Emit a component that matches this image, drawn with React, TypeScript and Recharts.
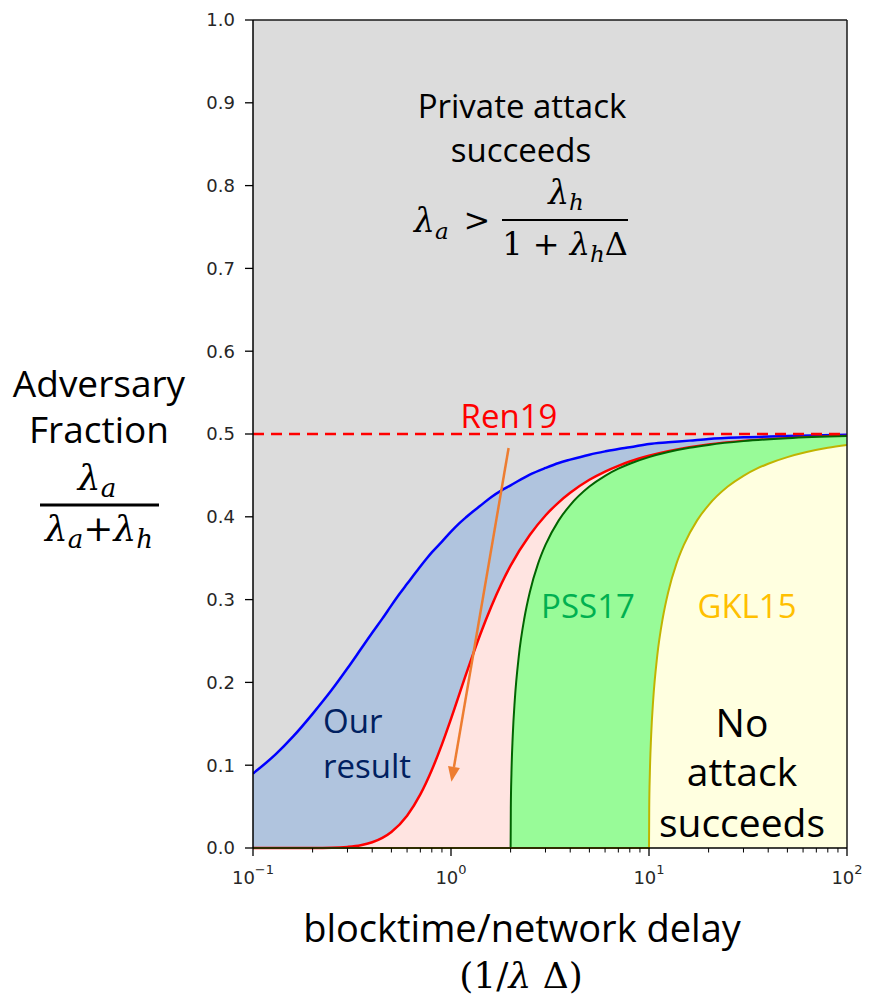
import React from 'react';
import { ComposedChart, Area, XAxis, YAxis, ReferenceLine, CartesianGrid } from 'recharts';

// x = blocktime / network delay (1/λΔ), y = adversary fraction
const blueX = [0.1, 0.13, 0.16, 0.2, 0.25, 0.3, 0.35, 0.4, 0.45, 0.5, 0.55, 0.6, 0.65, 0.7, 0.75, 0.8, 0.9, 1, 1.1, 1.2, 1.3, 1.4, 1.6, 1.8, 2, 2.5, 3, 3.5, 4, 5, 6, 7, 8, 10, 12.5, 16, 20, 30, 50, 100];
const blueY = [0.09, 0.113, 0.135, 0.162, 0.191, 0.217, 0.24, 0.26, 0.277, 0.293, 0.307, 0.319, 0.33, 0.34, 0.349, 0.357, 0.37, 0.382, 0.392, 0.4, 0.407, 0.413, 0.424, 0.432, 0.438, 0.451, 0.459, 0.465, 0.469, 0.475, 0.479, 0.482, 0.484, 0.488, 0.49, 0.492, 0.494, 0.496, 0.4975, 0.499];

const redX = [0.1, 0.2, 0.25, 0.3, 0.35, 0.4, 0.45, 0.5, 0.6, 0.7, 0.8, 0.9, 1, 1.2, 1.4, 1.6, 1.8, 2, 2.5, 3, 3.5, 4, 5, 6, 7, 8, 10, 12.5, 16, 20, 30, 50, 100];
const redY = [0, 0.00005, 0.0003, 0.0013, 0.0033, 0.0069, 0.0122, 0.0194, 0.039, 0.0647, 0.0942, 0.1252, 0.156, 0.212, 0.257, 0.292, 0.3195, 0.341, 0.378, 0.4016, 0.4175, 0.429, 0.4447, 0.4547, 0.4616, 0.4668, 0.4737, 0.4792, 0.484, 0.4873, 0.4915, 0.4949, 0.4975];

const greenX = [0.1, 2, 2.005, 2.02, 2.05, 2.1, 2.2, 2.35, 2.5, 2.75, 3, 3.5, 4, 5, 6, 7, 8, 10, 12.5, 16, 20, 30, 50, 100];
const greenY = [0, 0, 0.0476, 0.0905, 0.1351, 0.1791, 0.2317, 0.2784, 0.309, 0.3431, 0.366, 0.3957, 0.4142, 0.4365, 0.4495, 0.4581, 0.4641, 0.4721, 0.4782, 0.4833, 0.4868, 0.4914, 0.4949, 0.4975];

const yellowX = [0.1, 10, 10.025, 10.1, 10.25, 10.5, 11, 11.75, 12.5, 13.75, 15, 17.5, 20, 25, 30, 35, 40, 50, 62.5, 80, 100];
const yellowY = [0, 0, 0.0476, 0.0905, 0.1351, 0.1791, 0.2317, 0.2784, 0.309, 0.3431, 0.366, 0.3957, 0.4142, 0.4365, 0.4495, 0.4581, 0.4641, 0.4721, 0.4782, 0.4833, 0.4868];

const yTicks = [0, 0.1, 0.2, 0.3, 0.4, 0.5, 0.6, 0.7, 0.8, 0.9, 1.0];
const xMajor = [0.1, 1, 10, 100];
const xMinor = [0.2, 0.3, 0.4, 0.5, 0.6, 0.7, 0.8, 0.9, 2, 3, 4, 5, 6, 7, 8, 9, 20, 30, 40, 50, 60, 70, 80, 90];

const toPoints = (xs: number[], ys: number[]) => xs.map((x, i) => ({ x, y: ys[i] }));

const SANS = '"Open Sans", sans-serif';
const MATH = '"DejaVu Serif", serif';

function LogTick(props: any) {
  const { x, y, payload } = props;
  const v = payload.value;
  const major = xMajor.includes(v);
  const exp = Math.round(Math.log10(v));
  return (
    <g>
      <line x1={x} x2={x} y1={y} y2={y + (major ? 8 : 4.5)} stroke="#000" strokeWidth={major ? 1.3 : 1} />
      {major && (
        <text x={x} y={y + 36} textAnchor="middle" fontFamily="DejaVu Sans" fontSize={18} fill="#262626">
          10
          <tspan dy={-10} fontSize={13}>{exp < 0 ? '\u2212' + -exp : String(exp)}</tspan>
        </text>
      )}
    </g>
  );
}

function Arrow(props: any) {
  const { x1, y1, x2, y2 } = props;
  const ang = Math.atan2(y2 - y1, x2 - x1);
  const len = 15;
  const hw = 6;
  const bx = x2 - len * Math.cos(ang);
  const by = y2 - len * Math.sin(ang);
  const px = -Math.sin(ang) * hw;
  const py = Math.cos(ang) * hw;
  return (
    <g>
      <line x1={x1} y1={y1} x2={bx} y2={by} stroke="#ed7d31" strokeWidth={2.5} />
      <polygon points={`${x2},${y2} ${bx + px},${by + py} ${bx - px},${by - py}`} fill="#ed7d31" />
    </g>
  );
}

export default function App() {
  return (
    <div style={{ position: 'absolute', left: 0, top: 0, width: 869, height: 1002, background: '#fff' }}>
      <ComposedChart width={869} height={1002} margin={{ top: 20, right: 22, left: 193, bottom: 114 }}>
        <CartesianGrid horizontal={false} vertical={false} fill="#dcdcdc" />
        <XAxis
          dataKey="x"
          type="number"
          scale="log"
          domain={[0.1, 100]}
          allowDataOverflow
          ticks={[...xMajor, ...xMinor]}
          interval={0}
          tickSize={0}
          tickMargin={0}
          tickLine={false}
          tick={<LogTick />}
          axisLine={{ stroke: '#000', strokeWidth: 1.5 }}
          height={40}
        />
        <YAxis
          type="number"
          domain={[0, 1]}
          ticks={yTicks}
          interval={0}
          tickFormatter={(v: number) => v.toFixed(1)}
          width={60}
          tickSize={8}
          tickMargin={10}
          tick={{ fill: '#262626', fontSize: 18, fontFamily: 'DejaVu Sans' }}
          tickLine={{ stroke: '#000', strokeWidth: 1.3 }}
          axisLine={{ stroke: '#000', strokeWidth: 1.5 }}
        />
        <Area data={toPoints(blueX, blueY)} dataKey="y" type="monotone" fill="#b0c4de" fillOpacity={1}
          stroke="#0000ff" strokeWidth={2.5} dot={false} activeDot={false} isAnimationActive={false} />
        <Area data={toPoints(redX, redY)} dataKey="y" type="monotone" fill="#ffe4e1" fillOpacity={1}
          stroke="#ff0000" strokeWidth={2.5} dot={false} activeDot={false} isAnimationActive={false} />
        <Area data={toPoints(greenX, greenY)} dataKey="y" type="monotone" fill="#98fb98" fillOpacity={1}
          stroke="#006400" strokeWidth={2} dot={false} activeDot={false} isAnimationActive={false} />
        <Area data={toPoints(yellowX, yellowY)} dataKey="y" type="monotone" fill="#ffffe0" fillOpacity={1}
          stroke="#c0b400" strokeWidth={2} dot={false} activeDot={false} isAnimationActive={false} />
        <ReferenceLine y={0.5} stroke="#ff0000" strokeWidth={2.5} strokeDasharray="11 7" />
        <ReferenceLine y={1} stroke="#1a1a1a" strokeWidth={1.5} />
        <ReferenceLine x={100} stroke="#1a1a1a" strokeWidth={1.5} />
        <ReferenceLine
          segment={[{ x: 1.954, y: 0.483 }, { x: 1.005, y: 0.08 }]}
          ifOverflow="visible"
          shape={(p: any) => <Arrow {...p} />}
        />
      </ComposedChart>

      <svg width={869} height={1002} style={{ position: 'absolute', left: 0, top: 0, pointerEvents: 'none' }}>
        {/* gray region */}
        <text x={522} y={118} textAnchor="middle" fontFamily={SANS} fontSize={33} fill="#000">Private attack</text>
        <text x={521} y={162} textAnchor="middle" fontFamily={SANS} fontSize={33} fill="#000">succeeds</text>
        <text x={414} y={232} fontFamily={MATH} fontSize={33} fontStyle="italic" fill="#000">
          λ<tspan dy={7} fontSize={23}>a</tspan>
        </text>
        <text x={477} y={231} textAnchor="middle" fontFamily={MATH} fontSize={32} fill="#000">&gt;</text>
        <line x1={502} x2={628} y1={220} y2={220} stroke="#000" strokeWidth={2} />
        <text x={566} y={204} textAnchor="middle" fontFamily={MATH} fontSize={33} fontStyle="italic" fill="#000">
          λ<tspan dy={6} fontSize={23}>h</tspan>
        </text>
        <text x={565} y={255} textAnchor="middle" fontFamily={MATH} fontSize={32} fill="#000">
          1 + <tspan fontStyle="italic">λ</tspan>
          <tspan dy={7} fontSize={23} fontStyle="italic">h</tspan>
          <tspan dy={-7}>Δ</tspan>
        </text>

        {/* series labels */}
        <text x={509} y={428} textAnchor="middle" fontFamily={SANS} fontSize={33} fill="#ff0000">Ren19</text>
        <text x={588} y={618} textAnchor="middle" fontFamily={SANS} fontSize={33} fill="#00b050">PSS17</text>
        <text x={747} y={618} textAnchor="middle" fontFamily={SANS} fontSize={33} fill="#ffc000">GKL15</text>
        <text x={323} y={733} fontFamily={SANS} fontSize={33} fill="#002060">Our</text>
        <text x={323} y={778} fontFamily={SANS} fontSize={33} fill="#002060">result</text>
        <text x={742} y={737} textAnchor="middle" fontFamily={SANS} fontSize={39} fill="#000">No</text>
        <text x={742} y={786} textAnchor="middle" fontFamily={SANS} fontSize={39} fill="#000">attack</text>
        <text x={742} y={837} textAnchor="middle" fontFamily={SANS} fontSize={39} fill="#000">succeeds</text>

        {/* y axis label */}
        <text x={99} y={397} textAnchor="middle" fontFamily={SANS} fontSize={37} fill="#000">Adversary</text>
        <text x={99} y={443} textAnchor="middle" fontFamily={SANS} fontSize={37} fill="#000">Fraction</text>
        <text x={97} y={490} textAnchor="middle" fontFamily={MATH} fontSize={36} fontStyle="italic" fill="#000">
          λ<tspan dy={7} fontSize={26}>a</tspan>
        </text>
        <line x1={40} x2={159} y1={505} y2={505} stroke="#000" strokeWidth={3} />
        <text x={99} y={541} textAnchor="middle" fontFamily={MATH} fontSize={36} fill="#000">
          <tspan fontStyle="italic">λ</tspan>
          <tspan dy={7} fontSize={26} fontStyle="italic">a</tspan>
          <tspan dy={-7}>+</tspan>
          <tspan fontStyle="italic">λ</tspan>
          <tspan dy={7} fontSize={26} fontStyle="italic">h</tspan>
        </text>

        {/* x axis label */}
        <text x={522} y={942} textAnchor="middle" fontFamily={SANS} fontSize={38} fill="#000">blocktime/network delay</text>
        <text x={521} y={988} textAnchor="middle" fontFamily={MATH} fontSize={36} fill="#000">
          (1/<tspan fontStyle="italic">λ</tspan> Δ)
        </text>
      </svg>
    </div>
  );
}
